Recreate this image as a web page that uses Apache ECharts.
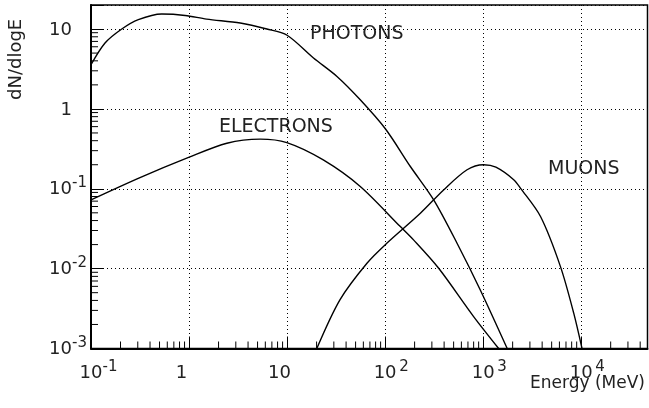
<!DOCTYPE html>
<html>
<head>
<meta charset="utf-8">
<script src="https://cdn.jsdelivr.net/npm/echarts@6/dist/echarts.min.js"></script>
<style>
  html, body { margin: 0; padding: 0; background: #fff; }
  #main { width: 649px; height: 408px; }
</style>
</head>
<body>
<div id="main"></div>
<script>
// energies in MeV, dN/dlogE values
var photonE = [0.1, 0.139, 0.206, 0.304, 0.527, 0.912, 1.51, 3.33, 6.22, 10, 18.6, 32.3, 55.8, 101, 181, 313, 542, 938, 1760];
var photonV = [3.57, 6.68, 10.0, 13.1, 15.4, 14.8, 13.3, 11.9, 10.0, 8.36, 4.34, 2.55, 1.30, 0.56, 0.19, 0.0726, 0.0208, 0.00537, 0.001];

var electronE = [0.1, 0.316, 0.99, 2.43, 5.32, 9.95, 23.4, 55.8, 143, 195, 352, 800, 1440];
var electronV = [0.0726, 0.138, 0.247, 0.372, 0.419, 0.379, 0.23, 0.107, 0.0336, 0.0229, 0.0101, 0.00251, 0.001];

var muonE = [20.1, 34.6, 65.3, 104, 229, 395, 686, 1010, 1350, 2050, 2400, 3850, 6150, 8410, 10200];
var muonV = [0.001, 0.00407, 0.0117, 0.0208, 0.0494, 0.0968, 0.173, 0.2, 0.186, 0.13, 0.102, 0.0449, 0.0106, 0.00275, 0.001];

// tick labels: [base, superscript]
var xTicks = [0.1, 1, 10, 100, 1000, 10000];
var xTickText = [['10', '-1'], ['1', ''], ['10', ''], ['10', '2'], ['10', '3'], ['10', '4']];
var yTicks = [0.001, 0.01, 0.1, 1, 10];
var yTickText = [['10', '-3'], ['10', '-2'], ['10', '-1'], ['1', ''], ['10', '']];

var xMin = 0.1, xMax = 47500, yMin = 0.001, yMax = 20;

function pairs(xs, ys) {
    return xs.map(function (x, i) { return [x, ys[i]]; });
}

function findTick(list, v) {
    for (var i = 0; i < list.length; i++) {
        if (Math.abs(Math.log10(v) - Math.log10(list[i])) < 1e-6) return i;
    }
    return -1;
}

// 2..9 subdivisions of each decade
function minorValues(decadeFrom, decadeTo, lo, hi) {
    var out = [];
    for (var k = decadeFrom; k <= decadeTo; k++) {
        for (var m = 2; m <= 9; m++) {
            var v = m * Math.pow(10, k);
            if (v > lo && v < hi) out.push(v);
        }
    }
    return out;
}
var xMinorTicks = minorValues(-1, 4, xMin, xMax).map(function (v) { return [v, yMin]; });
var yMinorTicks = minorValues(-3, 1, yMin, yMax).map(function (v) { return [xMin, v]; });

var font = 'DejaVu Sans';
var rich = {
    b: { fontFamily: font, fontSize: 18, color: '#222', lineHeight: 18 },
    s: { fontFamily: font, fontSize: 15, color: '#222', lineHeight: 15, width: 15, padding: [0, 0, 13, 0] },
    p: { fontFamily: font, fontSize: 15, lineHeight: 15, width: 15 }
};

var myChart = echarts.init(document.getElementById('main'));

var lineStyle = { color: '#000', width: 1.4 };
var majorTick = { show: true, inside: true, length: 12, lineStyle: { color: '#000', width: 1 } };

myChart.setOption({
    animation: false,
    backgroundColor: '#fff',
    grid: {
        left: 91, right: 1.5, top: 5, bottom: 59.5,
        show: true, borderColor: '#000', borderWidth: 1.5,
        outerBoundsMode: 'none'
    },
    xAxis: {
        type: 'log',
        logBase: 10,
        min: xMin,
        max: xMax,
        axisLine: { show: true, lineStyle: { color: '#000', width: 2 } },
        axisTick: majorTick,
        splitLine: { show: true, lineStyle: { color: '#000', width: 1, type: [1, 3] } },
        axisLabel: {
            margin: 16,
            align: 'center',
            rich: rich,
            formatter: function (v) {
                var i = findTick(xTicks, v);
                if (i < 0) return '';
                var t = xTickText[i];
                if (t[1]) return '{p| }{b|' + t[0] + '}{s|' + t[1] + '}';
                return '{b|' + t[0] + '}{s| }';
            }
        }
    },
    yAxis: {
        type: 'log',
        logBase: 10,
        min: yMin,
        max: yMax,
        axisLine: { show: true, lineStyle: { color: '#000', width: 2 } },
        axisTick: majorTick,
        splitLine: { show: true, lineStyle: { color: '#000', width: 1, type: [1, 3] } },
        axisLabel: {
            margin: 4,
            align: 'right',
            padding: [2, 0, 0, 0],
            rich: rich,
            formatter: function (v) {
                var i = findTick(yTicks, v);
                if (i < 0) return '';
                var t = yTickText[i];
                return '{b|' + t[0] + '}{s|' + (t[1] || ' ') + '}';
            }
        }
    },
    graphic: [
        { type: 'text', left: 310, top: 25, style: { text: 'PHOTONS', font: '19px "DejaVu Sans"', fill: '#222' } },
        { type: 'text', left: 219, top: 118, style: { text: 'ELECTRONS', font: '19px "DejaVu Sans"', fill: '#222' } },
        { type: 'text', left: 548, top: 160, style: { text: 'MUONS', font: '19px "DejaVu Sans"', fill: '#222' } },
        { type: 'text', right: 4, top: 375, style: { text: 'Energy (MeV)', font: '17px "DejaVu Sans"', fill: '#222' } },
        { type: 'text', x: 7, y: 100, rotation: Math.PI / 2, style: { text: 'dN/dlogE', font: '18px "DejaVu Sans"', fill: '#222' } }
    ],
    series: [
        { name: 'PHOTONS', type: 'line', data: pairs(photonE, photonV), showSymbol: false, smooth: 0.3, lineStyle: lineStyle, clip: true },
        { name: 'ELECTRONS', type: 'line', data: pairs(electronE, electronV), showSymbol: false, smooth: 0.3, lineStyle: lineStyle, clip: true },
        { name: 'MUONS', type: 'line', data: pairs(muonE, muonV), showSymbol: false, smooth: 0.3, lineStyle: lineStyle, clip: true },
        // minor ticks as thin rect symbols sitting on the axes
        {
            name: 'xminor', type: 'scatter', data: xMinorTicks, silent: true, clip: false, z: 5,
            symbol: 'rect', symbolSize: [1, 7], symbolOffset: [0, -3.5],
            itemStyle: { color: '#000', opacity: 1 }
        },
        {
            name: 'yminor', type: 'scatter', data: yMinorTicks, silent: true, clip: false, z: 5,
            symbol: 'rect', symbolSize: [7, 1], symbolOffset: [3.5, 0],
            itemStyle: { color: '#000', opacity: 1 }
        }
    ]
});
</script>
</body>
</html>
